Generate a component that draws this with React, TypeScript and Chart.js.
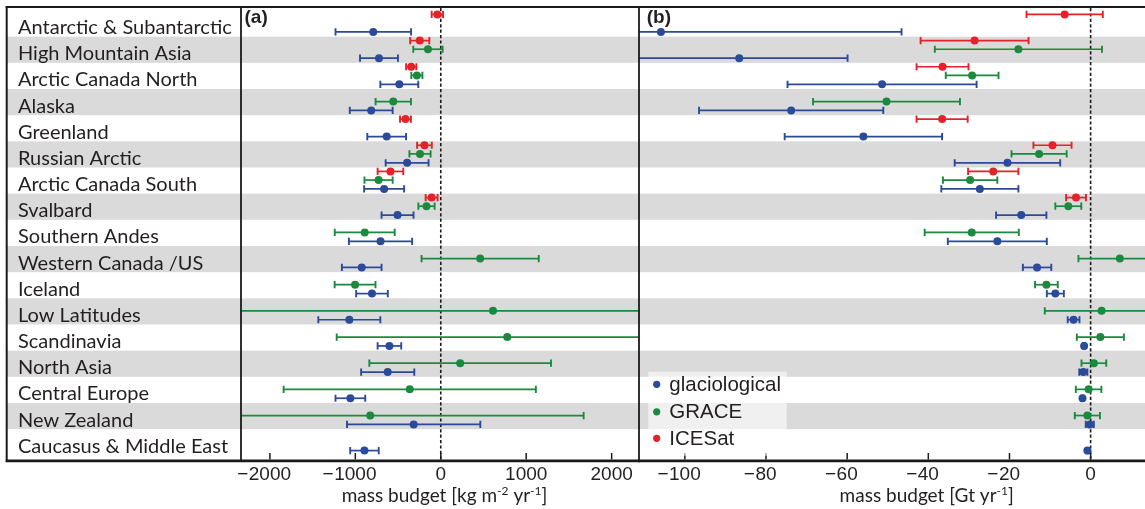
import React, { useEffect, useRef } from "react";
import { Chart, registerables } from "chart.js";

Chart.register(...registerables);

// ---------------- data ----------------
const REGIONS = [
  "Antarctic & Subantarctic",
  "High Mountain Asia",
  "Arctic Canada North",
  "Alaska",
  "Greenland",
  "Russian Arctic",
  "Arctic Canada South",
  "Svalbard",
  "Southern Andes",
  "Western Canada /US",
  "Iceland",
  "Low Latitudes",
  "Scandinavia",
  "North Asia",
  "Central Europe",
  "New Zealand",
  "Caucasus & Middle East",
];

const LEGEND_LABELS = ["glaciological", "GRACE", "ICESat"];

const TICKS_A = [-2000, -1000, 0, 1000, 2000];
const TICKS_B = [-100, -80, -60, -40, -20, 0];

// (a) mass budget [kg m-2 yr-1]
const GLACIO_A = [-790, -723, -485, -814, -633, -394, -663, -506, -705, -925, -805, -1070, -601, -621, -1058, -317, -893];
const GLACIO_A_ERR = [442, 222, 222, 251, 227, 251, 234, 187, 370, 232, 185, 363, 138, 311, 174, 780, 167];
const GRACE_A = [null, -150, -280, -556, null, -243, -728, -167, -890, 461, -1003, 611, 778, 227, -363, -826, null];
const GRACE_A_ERR = [null, 172, 65, 207, null, 124, 165, 95, 351, 686, 239, 3050, 1996, 1063, 1476, 2498, null];
const ICESAT_A = [-40, -246, -346, null, -413, -191, -589, -107, null, null, null, null, null, null, null, null, null];
const ICESAT_A_ERR = [67, 112, 60, null, 64, 86, 150, 70, null, null, null, null, null, null, null, null, null];

// (b) mass budget [Gt yr-1]
const GLACIO_B = [-105.9, -86.6, -51.4, -73.8, -56.0, -20.5, -27.3, -17.1, -23.0, -13.2, -8.7, -4.2, -1.6, -1.8, -2.0, -0.2, -0.8];
const GLACIO_B_ERR = [59.3, 26.7, 23.3, 22.7, 19.4, 13.0, 9.5, 6.2, 12.2, 3.5, 2.1, 1.45, 0.3, 1.0, 0.3, 1.0, 0.3];
const GRACE_B = [null, -17.8, -29.2, -50.3, null, -12.7, -29.7, -5.5, -29.3, 7.2, -10.9, 2.7, 2.4, 0.8, -0.5, -0.8, null];
const GRACE_B_ERR = [null, 20.6, 6.5, 18.1, null, 6.8, 6.7, 3.2, 11.6, 10.2, 2.8, 14.0, 5.8, 3.05, 3.15, 3.1, null];
const ICESAT_B = [-6.4, -28.6, -36.5, null, -36.6, -9.4, -24.0, -3.6, null, null, null, null, null, null, null, null, null];
const ICESAT_B_ERR = [9.4, 13.3, 6.4, null, 6.3, 4.7, 6.2, 2.45, null, null, null, null, null, null, null, null, null];

// ---------------- styles ----------------
const BLUE = "#2b4a9a";
const GREEN = "#1b8a3f";
const RED = "#e32229";
const BAND = "#dadada";
const TEXT = "#231f20";
const LINE = "#1a1a1a";
const LABEL_FONT = "Lato";
const NUM_FONT = "'Liberation Sans', Arial, sans-serif";

// vertical slot of each series inside a row (row units)
const OFFSET_ICESAT = -0.35;
const OFFSET_GRACE = -0.02;
const OFFSET_GLACIO = 0.32;

const Y_MIN = -0.596;
const Y_MAX = 16.718;

type Series = {
  name: string;
  color: string;
  values: (number | null)[];
  errors: (number | null)[];
  offset: number;
};

type PanelCfg = {
  key: string;
  left: number;
  width: number;
  xMin: number;
  xMax: number;
  ticks: number[];
  padding: { left: number; right: number; top: number; bottom: number };
  showRegions: boolean;
  bandFrom: number | null;
  panelLabel: string;
  panelLabelX: number;
  title: [string, boolean][];
  titleCx: number;
  legend: boolean;
  outerLeft: boolean;
  series: Series[];
};

function drawSupText(ctx: CanvasRenderingContext2D, parts: [string, boolean][], cx: number, baseline: number) {
  const main = `19px ${LABEL_FONT}`;
  const sup = `12px ${LABEL_FONT}`;
  let total = 0;
  parts.forEach(([t, s]) => {
    ctx.font = s ? sup : main;
    total += ctx.measureText(t).width;
  });
  let x = cx - total / 2;
  ctx.textAlign = "left";
  ctx.textBaseline = "alphabetic";
  parts.forEach(([t, s]) => {
    ctx.font = s ? sup : main;
    ctx.fillText(t, x, s ? baseline - 7 : baseline);
    x += ctx.measureText(t).width;
  });
}

function makePlugin(p: PanelCfg) {
  return {
    id: "custom_" + p.key,
    beforeDraw(chart: any) {
      const { ctx, chartArea: a } = chart;
      const y = chart.scales.y;
      ctx.save();
      ctx.fillStyle = BAND;
      const x0 = p.bandFrom ?? a.left;
      for (let i = 1; i < REGIONS.length; i += 2) {
        const t = y.getPixelForValue(i - 0.5);
        const b = y.getPixelForValue(i + 0.5);
        ctx.fillRect(x0, t, a.right - x0, b - t);
      }
      ctx.restore();
    },
    beforeDatasetsDraw(chart: any) {
      const { ctx, chartArea: a } = chart;
      const x = chart.scales.x;
      const y = chart.scales.y;
      ctx.save();
      ctx.beginPath();
      ctx.rect(a.left, a.top, a.right - a.left, a.bottom - a.top);
      ctx.clip();
      // zero line
      const zx = x.getPixelForValue(0);
      ctx.strokeStyle = LINE;
      ctx.lineWidth = 1.6;
      ctx.setLineDash([3.2, 2.2]);
      ctx.beginPath();
      ctx.moveTo(zx, a.top);
      ctx.lineTo(zx, a.bottom);
      ctx.stroke();
      ctx.setLineDash([]);
      // error bars
      p.series.forEach((s) => {
        ctx.strokeStyle = s.color;
        s.values.forEach((v, i) => {
          const e = s.errors[i];
          if (v == null || e == null) return;
          const py = y.getPixelForValue(i + s.offset);
          const x1 = x.getPixelForValue(v - e);
          const x2 = x.getPixelForValue(v + e);
          ctx.lineWidth = 1.7;
          ctx.beginPath();
          ctx.moveTo(x1, py);
          ctx.lineTo(x2, py);
          ctx.stroke();
          ctx.lineWidth = 1.9;
          ctx.beginPath();
          ctx.moveTo(x1, py - 3.6);
          ctx.lineTo(x1, py + 3.6);
          ctx.moveTo(x2, py - 3.6);
          ctx.lineTo(x2, py + 3.6);
          ctx.stroke();
        });
      });
      ctx.restore();
    },
    afterDraw(chart: any) {
      const { ctx, chartArea: a, width } = chart;
      const x = chart.scales.x;
      ctx.save();
      ctx.strokeStyle = LINE;
      // frame
      ctx.lineWidth = 2;
      ctx.beginPath();
      ctx.moveTo(p.outerLeft ? 5.7 : 0, 7);
      ctx.lineTo(width, 7);
      ctx.stroke();
      ctx.lineWidth = 2.8;
      ctx.beginPath();
      ctx.moveTo(p.outerLeft ? 5.7 : 0, 460.8);
      ctx.lineTo(width, 460.8);
      ctx.stroke();
      ctx.lineWidth = 2;
      if (p.outerLeft) {
        ctx.beginPath();
        ctx.moveTo(6.7, 6);
        ctx.lineTo(6.7, 462);
        ctx.stroke();
      }
      ctx.lineWidth = 1.8;
      ctx.beginPath();
      ctx.moveTo(a.left, 7);
      ctx.lineTo(a.left, 461);
      ctx.stroke();
      // ticks
      ctx.lineWidth = 1.5;
      p.ticks.forEach((t) => {
        const px = x.getPixelForValue(t);
        ctx.beginPath();
        ctx.moveTo(px, 459.5 - 6.5);
        ctx.lineTo(px, 459.5);
        ctx.stroke();
      });
      // tick labels (digits centred on the tick, minus hanging left)
      ctx.fillStyle = TEXT;
      ctx.font = `19px ${NUM_FONT}`;
      ctx.textBaseline = "alphabetic";
      p.ticks.forEach((t) => {
        const px = x.getPixelForValue(t);
        const s = String(Math.abs(t));
        ctx.textAlign = "center";
        ctx.fillText(s, px, 479.5);
        if (t < 0) {
          const w = ctx.measureText(s).width;
          ctx.textAlign = "right";
          ctx.fillText("\u2212", px - w / 2 - 0.5, 479.5);
        }
      });
      // axis title
      drawSupText(ctx, p.title, p.titleCx - p.left, 502);
      // panel label
      ctx.font = `bold 19px ${NUM_FONT}`;
      ctx.textAlign = "left";
      ctx.fillText(p.panelLabel, p.panelLabelX - p.left, 22.5);
      // legend
      if (p.legend) {
        const bx = 648.3 - p.left;
        ctx.fillStyle = "rgba(255,255,255,0.6)";
        ctx.fillRect(bx, 371.7, 138.4, 84);
        const cols = [BLUE, GREEN, RED];
        const bases = [390.5, 418, 444.5];
        ctx.font = `20.5px ${NUM_FONT}`;
        LEGEND_LABELS.forEach((lab, i) => {
          ctx.fillStyle = cols[i];
          ctx.beginPath();
          ctx.arc(656.7 - p.left, bases[i] - 6.2, 3.6, 0, Math.PI * 2);
          ctx.fill();
          ctx.fillStyle = TEXT;
          ctx.fillText(lab, 669.3 - p.left, bases[i]);
        });
      }
      ctx.restore();
    },
  };
}

function PanelChart({ cfg }: { cfg: PanelCfg }) {
  const ref = useRef<HTMLCanvasElement | null>(null);
  useEffect(() => {
    let chart: Chart | null = null;
    let cancelled = false;
    const build = () => {
      if (cancelled || !ref.current) return;
      chart = new Chart(ref.current, {
        type: "scatter",
        data: {
          datasets: cfg.series.map((s) => ({
            label: s.name,
            data: s.values
              .map((v, i) => (v == null ? null : { x: v, y: i + s.offset }))
              .filter((d) => d !== null) as { x: number; y: number }[],
            pointRadius: 4,
            pointHoverRadius: 4,
            pointBackgroundColor: s.color,
            pointBorderWidth: 0,
            borderColor: s.color,
            backgroundColor: s.color,
          })),
        },
        options: {
          animation: false,
          responsive: false,
          events: [],
          layout: { padding: cfg.padding, autoPadding: false },
          plugins: { legend: { display: false }, tooltip: { enabled: false } },
          scales: {
            x: {
              type: "linear",
              display: false,
              min: cfg.xMin,
              max: cfg.xMax,
            },
            y: {
              type: "linear",
              display: cfg.showRegions,
              reverse: true,
              min: Y_MIN,
              max: Y_MAX,
              grid: { display: false },
              border: { display: false },
              afterFit: (scale: any) => {
                if (cfg.showRegions) scale.width = 223;
                scale.paddingTop = 0;
                scale.paddingBottom = 0;
              },
              afterBuildTicks: (scale: any) => {
                scale.ticks = REGIONS.map((_, i) => ({ value: i }));
              },
              ticks: {
                autoSkip: false,
                crossAlign: "far",
                labelOffset: 4,
                color: TEXT,
                font: { family: LABEL_FONT, size: 20 },
                callback: (v: any) => REGIONS[v as number] ?? "",
              },
            },
          },
        },
        plugins: [makePlugin(cfg)],
      } as any);
    };
    const fonts = (document as any).fonts;
    if (fonts && fonts.load) {
      Promise.all([
        fonts.load(`20px ${LABEL_FONT}`),
        fonts.load(`19px 'Liberation Sans'`),
        fonts.load(`bold 19px 'Liberation Sans'`),
      ])
        .catch(() => null)
        .then(build);
    } else {
      build();
    }
    return () => {
      cancelled = true;
      if (chart) chart.destroy();
    };
  }, [cfg]);
  return (
    <canvas
      ref={ref}
      width={cfg.width}
      height={509}
      style={{ position: "absolute", left: cfg.left, top: 0, width: cfg.width, height: 509 }}
    />
  );
}

const PANEL_A: PanelCfg = {
  key: "a",
  left: 0,
  width: 640,
  xMin: -2338,
  xMax: 2320,
  ticks: TICKS_A,
  padding: { left: 18, right: 1, top: 8, bottom: 48 },
  showRegions: true,
  bandFrom: 7,
  panelLabel: "(a)",
  panelLabelX: 244.5,
  title: [["mass budget [kg m", false], ["-2", true], [" yr", false], ["-1", true], ["]", false]],
  titleCx: 444.5,
  legend: false,
  outerLeft: true,
  series: [
    { name: "ICESat", color: RED, values: ICESAT_A, errors: ICESAT_A_ERR, offset: OFFSET_ICESAT },
    { name: "GRACE", color: GREEN, values: GRACE_A, errors: GRACE_A_ERR, offset: OFFSET_GRACE },
    { name: "glaciological", color: BLUE, values: GLACIO_A, errors: GLACIO_A_ERR, offset: OFFSET_GLACIO },
  ],
};

const PANEL_B: PanelCfg = {
  key: "b",
  left: 638,
  width: 507,
  xMin: -111.3,
  xMax: 13.4,
  ticks: TICKS_B,
  padding: { left: 1, right: 0, top: 8, bottom: 48 },
  showRegions: false,
  bandFrom: null,
  panelLabel: "(b)",
  panelLabelX: 646.7,
  title: [["mass budget [Gt yr", false], ["-1", true], ["]", false]],
  titleCx: 926.7,
  legend: true,
  outerLeft: false,
  series: [
    { name: "ICESat", color: RED, values: ICESAT_B, errors: ICESAT_B_ERR, offset: OFFSET_ICESAT },
    { name: "GRACE", color: GREEN, values: GRACE_B, errors: GRACE_B_ERR, offset: OFFSET_GRACE },
    { name: "glaciological", color: BLUE, values: GLACIO_B, errors: GLACIO_B_ERR, offset: OFFSET_GLACIO },
  ],
};

export default function App() {
  return (
    <div
      style={{
        position: "fixed",
        left: 0,
        top: 0,
        width: 1145,
        height: 509,
        background: "#ffffff",
        overflow: "hidden",
      }}
    >
      <PanelChart cfg={PANEL_A} />
      <PanelChart cfg={PANEL_B} />
    </div>
  );
}
